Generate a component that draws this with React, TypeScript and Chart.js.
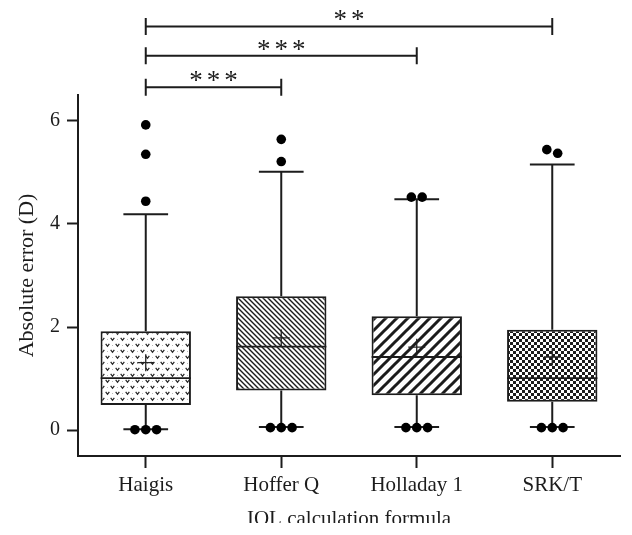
import React, { useEffect, useRef } from "react";
import { Chart, registerables } from "chart.js";

Chart.register(...registerables);

const categories = ["Haigis", "Hoffer Q", "Holladay 1", "SRK/T"];
const q1 = [0.49, 0.77, 0.68, 0.55];
const q3 = [1.92, 2.6, 2.21, 1.95];
const medians = [1.01, 1.62, 1.42, 1.01];
const means = [1.31, 1.79, 1.61, 1.42];
const whiskerLow = [0.02, 0.06, 0.06, 0.06];
const whiskerHigh = [4.19, 5.01, 4.48, 5.15];

const outlierCat = [0, 0, 0, 0, 0, 0, 1, 1, 1, 1, 1, 2, 2, 2, 2, 2, 3, 3, 3, 3, 3];
const outlierJitter = [0, 0, 0, -0.08, 0, 0.08, 0, 0, -0.08, 0, 0.08, -0.04, 0.04, -0.08, 0, 0.08, -0.04, 0.04, -0.08, 0, 0.08];
const outlierValue = [5.92, 5.35, 4.44, 0.01, 0.01, 0.01, 5.64, 5.21, 0.05, 0.05, 0.05, 4.52, 4.52, 0.05, 0.05, 0.05, 5.44, 5.37, 0.05, 0.05, 0.05];

const yTicks = [0, 2, 4, 6];

const bracketFrom = [0, 0, 0];
const bracketTo = [1, 2, 3];
const bracketLevel = [6.65, 7.26, 7.83];
const bracketLabel = ["***", "***", "**"];

const patternKinds = ["v", "back", "fwd", "checker"];

const INK = "#1c1c1c";
const SERIF = "'Liberation Serif', 'Times New Roman', serif";

function makePattern(kind: string): CanvasPattern | string {
  const c = document.createElement("canvas");
  const g = c.getContext("2d");
  if (!g) return "#fff";
  if (kind === "v") {
    c.width = 10;
    c.height = 12;
    g.fillStyle = "#fff";
    g.fillRect(0, 0, 10, 12);
    g.strokeStyle = "#222";
    g.lineWidth = 1.2;
    const v = (x: number, y: number) => {
      g.beginPath();
      g.moveTo(x - 1.8, y - 1.2);
      g.lineTo(x, y + 1.3);
      g.lineTo(x + 1.8, y - 1.2);
      g.stroke();
    };
    v(2.5, 3);
    v(7.5, 9);
    g.fillStyle = "#bbb";
    g.fillRect(7, 3, 1, 1);
    g.fillRect(2, 9, 1, 1);
  } else if (kind === "back") {
    c.width = 5;
    c.height = 5;
    g.fillStyle = "#fff";
    g.fillRect(0, 0, 5, 5);
    g.strokeStyle = INK;
    g.lineWidth = 1.4;
    g.beginPath();
    g.moveTo(-1, -1);
    g.lineTo(6, 6);
    g.moveTo(-1, 4);
    g.lineTo(1, 6);
    g.moveTo(4, -1);
    g.lineTo(6, 1);
    g.stroke();
  } else if (kind === "fwd") {
    c.width = 11;
    c.height = 11;
    g.fillStyle = "#fff";
    g.fillRect(0, 0, 11, 11);
    g.strokeStyle = INK;
    g.lineWidth = 3;
    g.beginPath();
    g.moveTo(-2, 13);
    g.lineTo(13, -2);
    g.moveTo(-2, 2);
    g.lineTo(2, -2);
    g.moveTo(9, 13);
    g.lineTo(13, 9);
    g.stroke();
  } else {
    c.width = 6;
    c.height = 6;
    g.fillStyle = "#fff";
    g.fillRect(0, 0, 6, 6);
    g.fillStyle = INK;
    g.fillRect(0, 0, 3, 3);
    g.fillRect(3, 3, 3, 3);
  }
  return g.createPattern(c, "repeat") || "#fff";
}

const bracketPlugin = {
  id: "brackets",
  afterDraw(chart: any) {
    const { ctx } = chart;
    const xs = chart.scales.x;
    const ys = chart.scales.y;
    ctx.save();
    ctx.strokeStyle = INK;
    ctx.fillStyle = INK;
    ctx.lineWidth = 2;
    bracketLevel.forEach((lv, i) => {
      const x1 = xs.getPixelForValue(bracketFrom[i]);
      const x2 = xs.getPixelForValue(bracketTo[i]);
      const y = ys.getPixelForValue(lv);
      ctx.beginPath();
      ctx.moveTo(x1, y);
      ctx.lineTo(x2, y);
      ctx.moveTo(x1, y - 8.5);
      ctx.lineTo(x1, y + 8.5);
      ctx.moveTo(x2, y - 8.5);
      ctx.lineTo(x2, y + 8.5);
      ctx.stroke();
      ctx.font = `27px ${SERIF}`;
      (ctx as any).letterSpacing = "4px";
      const w = ctx.measureText(bracketLabel[i]).width - 4;
      ctx.textAlign = "left";
      ctx.textBaseline = "alphabetic";
      ctx.fillText(bracketLabel[i], (x1 + x2) / 2 - w / 2, y + 2);
    });
    ctx.restore();
  },
};

export default function App() {
  const ref = useRef<HTMLCanvasElement | null>(null);

  useEffect(() => {
    if (!ref.current) return;
    const whiskerData: any[] = [];
    categories.forEach((_, i) => {
      whiskerData.push({ x: i, y: whiskerLow[i] }, { x: i, y: q1[i] }, { x: i, y: null });
      whiskerData.push({ x: i, y: q3[i] }, { x: i, y: whiskerHigh[i] }, { x: i, y: null });
      whiskerData.push({ x: i - 0.165, y: whiskerLow[i] }, { x: i + 0.165, y: whiskerLow[i] }, { x: i, y: null });
      whiskerData.push({ x: i - 0.165, y: whiskerHigh[i] }, { x: i + 0.165, y: whiskerHigh[i] }, { x: i, y: null });
    });
    const medianData: any[] = [];
    categories.forEach((_, i) => {
      medianData.push({ x: i - 0.333, y: medians[i] }, { x: i + 0.333, y: medians[i] }, { x: i, y: null });
    });

    const chart = new Chart(ref.current, {
      type: "bar",
      data: {
        datasets: [
          {
            type: "scatter",
            data: outlierValue.map((v, k) => ({ x: outlierCat[k] + outlierJitter[k], y: v })),
            pointRadius: 4.8,
            pointBackgroundColor: "#000",
            pointBorderWidth: 0,
            order: 0,
          } as any,
          {
            type: "scatter",
            data: means.map((m, i) => ({ x: i, y: m })),
            pointStyle: "cross",
            pointRadius: 8.5,
            pointBorderColor: "#222",
            pointBorderWidth: 1.3,
            order: 1,
          } as any,
          {
            type: "line",
            data: medianData,
            borderColor: INK,
            borderWidth: 1.8,
            pointRadius: 0,
            spanGaps: false,
            order: 2,
          } as any,
          {
            type: "line",
            data: whiskerData,
            borderColor: INK,
            borderWidth: 2,
            pointRadius: 0,
            spanGaps: false,
            order: 3,
          } as any,
          {
            type: "bar",
            data: categories.map((_, i) => ({ x: i, y: [q1[i], q3[i]] })),
            backgroundColor: patternKinds.map((k) => makePattern(k)),
            borderColor: INK,
            borderWidth: 2,
            borderSkipped: false,
            categoryPercentage: 1,
            barPercentage: 0.667,
            order: 10,
          } as any,
        ],
      },
      options: {
        animation: false,
        responsive: true,
        maintainAspectRatio: false,
        layout: { padding: { left: 0, right: 12, top: 95, bottom: 0 } },
        plugins: { legend: { display: false }, tooltip: { enabled: false } },
        scales: {
          x: {
            type: "linear",
            min: -0.5,
            max: 3.5,
            offset: false,
            afterBuildTicks: (s: any) => {
              s.ticks = categories.map((_, i) => ({ value: i }));
            },
            afterFit: (s: any) => {
              s.height = 67;
            },
            ticks: {
              color: INK,
              font: { family: SERIF, size: 21 },
              padding: 5,
              maxRotation: 0,
              autoSkip: false,
              callback: (v: any) => categories[v] ?? "",
            },
            grid: {
              offset: false,
              drawOnChartArea: false,
              drawTicks: true,
              tickLength: 12,
              tickWidth: 2,
              tickColor: INK,
            },
            border: { display: true, color: INK, width: 2 },
            title: {
              display: true,
              text: "IOL calculation formula",
              color: INK,
              font: { family: SERIF, size: 21 },
              padding: { top: 0, bottom: -9 },
            },
          },
          y: {
            type: "linear",
            min: -0.5,
            max: 6.5,
            afterBuildTicks: (s: any) => {
              s.ticks = yTicks.map((v) => ({ value: v }));
            },
            afterFit: (s: any) => {
              s.width = 78;
            },
            ticks: {
              color: INK,
              font: { family: SERIF, size: 20 },
              padding: 7,
            },
            grid: {
              drawOnChartArea: false,
              drawTicks: true,
              tickLength: 11,
              tickWidth: 2,
              tickColor: INK,
            },
            border: { display: true, color: INK, width: 2 },
            title: {
              display: true,
              text: "Absolute error (D)",
              color: INK,
              font: { family: SERIF, size: 22 },
              padding: { top: 14, bottom: 0 },
            },
          },
        },
      } as any,
      plugins: [bracketPlugin],
    });
    return () => chart.destroy();
  }, []);

  return (
    <div style={{ position: "absolute", left: 0, top: 0, width: 632, height: 523, overflow: "hidden", background: "#fff" }}>
      <canvas ref={ref} />
    </div>
  );
}
